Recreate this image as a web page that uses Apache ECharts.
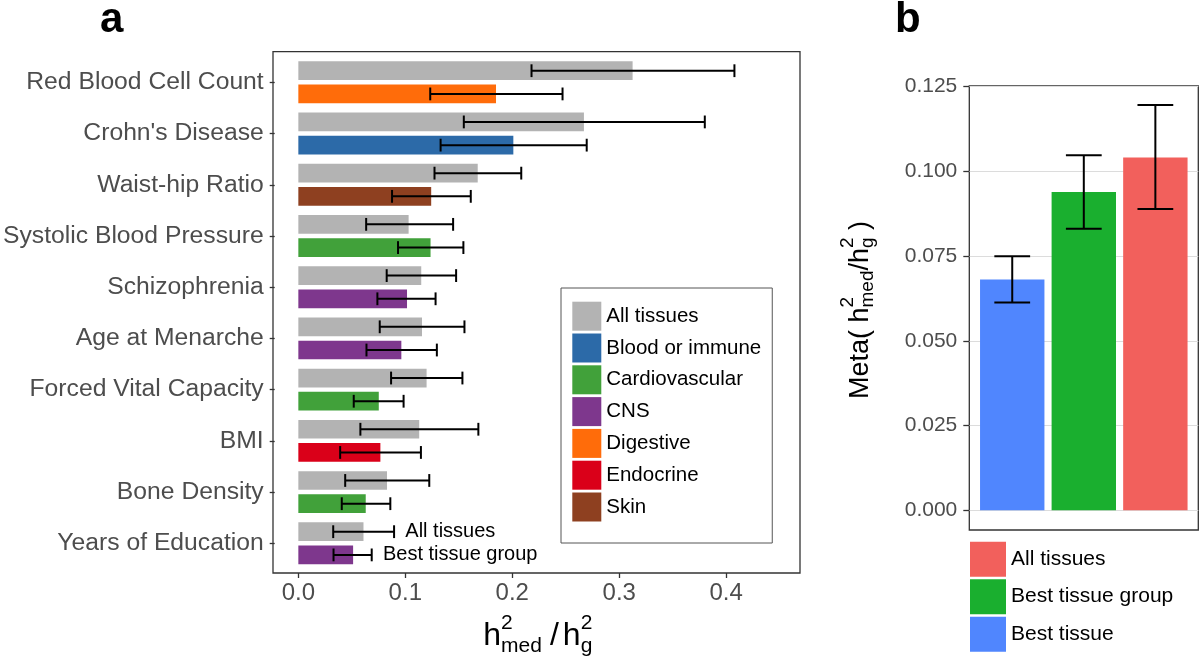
<!DOCTYPE html>
<html><head><meta charset="utf-8">
<script src="https://cdn.jsdelivr.net/npm/echarts@6/dist/echarts.min.js"></script>
<style>html,body{margin:0;padding:0;background:#fff}#c{width:1200px;height:661px}</style>
</head><body><div id="c"></div>
<script>
// ---------- Panel a data ----------
const traits = ['Red Blood Cell Count', "Crohn's Disease", 'Waist-hip Ratio', 'Systolic Blood Pressure', 'Schizophrenia', 'Age at Menarche', 'Forced Vital Capacity', 'BMI', 'Bone Density', 'Years of Education'];
const allTissuesVal = [0.3125, 0.267, 0.1677, 0.1031, 0.1149, 0.1156, 0.1199, 0.113, 0.0829, 0.0609];
const allTissuesLo  = [0.218, 0.1547, 0.1273, 0.0634, 0.0826, 0.0761, 0.0867, 0.058, 0.0438, 0.0326];
const allTissuesHi  = [0.4077, 0.380, 0.2084, 0.1447, 0.1475, 0.1553, 0.1534, 0.1683, 0.1224, 0.0895];
const bestGroup     = ['Digestive', 'Blood or immune', 'Skin', 'Cardiovascular', 'CNS', 'CNS', 'Cardiovascular', 'Endocrine', 'Cardiovascular', 'CNS'];
const bestGroupVal  = [0.1848, 0.201, 0.1242, 0.1236, 0.1016, 0.0963, 0.0752, 0.0767, 0.063, 0.0512];
const bestGroupLo   = [0.1233, 0.133, 0.0876, 0.0932, 0.0739, 0.0637, 0.0518, 0.0391, 0.0406, 0.0329];
const bestGroupHi   = [0.247, 0.2696, 0.1612, 0.1543, 0.1283, 0.1295, 0.0984, 0.1146, 0.086, 0.0686];
const tissueGroups  = ['Blood or immune', 'Cardiovascular', 'CNS', 'Digestive', 'Endocrine', 'Skin'];
const tissueColors  = ['#2C6AA8', '#41A13A', '#7E378D', '#FF6C0A', '#DA0019', '#8E4020'];
const xTicksA = [0, 0.1, 0.2, 0.3, 0.4];
const allColor = '#B3B3B3';
const annotText = ['All tissues', 'Best tissue group'];

// ---------- Panel b data ----------
const metaCats   = ['Best tissue', 'Best tissue group', 'All tissues'];
const metaVal    = [0.0681, 0.0939, 0.1041];
const metaLo     = [0.0613, 0.0831, 0.0889];
const metaHi     = [0.075, 0.1048, 0.1196];
const metaColors = ['#5086FE', '#1AAF2F', '#F2605C'];
const metaLegendOrder = ['All tissues', 'Best tissue group', 'Best tissue'];

const FONT = '"Liberation Sans", Arial, sans-serif';
const colorOf = g => tissueColors[tissueGroups.indexOf(g)];

const ctx = document.createElement('canvas').getContext('2d');
function tw(t, size) { ctx.font = size + 'px ' + FONT; return ctx.measureText(t).width; }
function mathGroup(parts, x, y, rotation) {
  const children = []; let cx = 0;
  parts.forEach(p => {
    const items = p.stack || [p];
    let w = 0;
    items.forEach(it => {
      children.push({type: 'text', x: cx, y: (it.dy || 0) - 0.31 * it.size,
        style: {text: it.t, fontSize: it.size, fontFamily: FONT, fill: '#000', align: 'left', verticalAlign: 'middle'}});
      w = Math.max(w, tw(it.t, it.size));
    });
    cx += w + (p.gap || 0);
  });
  return {type: 'group', x: x, y: y, rotation: rotation, children: children};
}

function errA(frac) {
  return function (params, api) {
    const idx = api.value(2);
    const band = api.size([0, 1])[1];
    const p1 = api.coord([api.value(0), idx]);
    const p2 = api.coord([api.value(1), idx]);
    const y = p1[1] + frac * band;
    const h = band * 0.125;
    const st = {stroke: '#000', lineWidth: 2};
    return {type: 'group', children: [
      {type: 'line', shape: {x1: p1[0], y1: y, x2: p2[0], y2: y}, style: st},
      {type: 'line', shape: {x1: p1[0], y1: y - h, x2: p1[0], y2: y + h}, style: st},
      {type: 'line', shape: {x1: p2[0], y1: y - h, x2: p2[0], y2: y + h}, style: st}
    ]};
  };
}
const OFF = 0.2266;

function errB(params, api) {
  const x = api.value(0);
  const p1 = api.coord([x, api.value(1)]);
  const p2 = api.coord([x, api.value(2)]);
  const hw = api.size([0.25, 0])[0];
  const st = {stroke: '#000', lineWidth: 2};
  return {type: 'group', children: [
    {type: 'line', shape: {x1: p1[0], y1: p1[1], x2: p2[0], y2: p2[1]}, style: st},
    {type: 'line', shape: {x1: p1[0] - hw, y1: p1[1], x2: p1[0] + hw, y2: p1[1]}, style: st},
    {type: 'line', shape: {x1: p2[0] - hw, y1: p2[1], x2: p2[0] + hw, y2: p2[1]}, style: st}
  ]};
}

const last = traits.length - 1;
const annotData = [[allTissuesHi[last] + 0.0105, last, 0], [bestGroupHi[last] + 0.0105, last, 1]];

const series = [
  {type: 'bar', name: 'All tissues', xAxisIndex: 1, yAxisIndex: 1, data: allTissuesVal,
   barWidth: 18.7, barGap: '24%', itemStyle: {color: allColor}},
  {type: 'bar', name: 'Best tissue group', xAxisIndex: 1, yAxisIndex: 1,
   data: bestGroupVal.map((v, i) => ({value: v, itemStyle: {color: colorOf(bestGroup[i])}})),
   barWidth: 18.7, barGap: '24%'},
  {type: 'custom', xAxisIndex: 1, yAxisIndex: 1, renderItem: errA(-OFF), encode: {x: [0, 1], y: 2},
   data: allTissuesLo.map((lo, i) => [lo, allTissuesHi[i], i]), z: 5},
  {type: 'custom', xAxisIndex: 1, yAxisIndex: 1, renderItem: errA(OFF), encode: {x: [0, 1], y: 2},
   data: bestGroupLo.map((lo, i) => [lo, bestGroupHi[i], i]), z: 5},
  {type: 'custom', xAxisIndex: 1, yAxisIndex: 1, encode: {x: 0, y: 1}, data: annotData, z: 5,
   renderItem: function (params, api) {
     const k = api.value(2);
     const band = api.size([0, 1])[1];
     const p = api.coord([api.value(0), api.value(1)]);
     return {type: 'text', x: p[0], y: p[1] + (k === 0 ? -OFF : OFF) * band,
       style: {text: annotText[k], fontSize: 20, fontFamily: FONT, fill: '#000', align: 'left', verticalAlign: 'middle'}};
   }},
];
tissueGroups.forEach((g, i) => series.push({type: 'line', name: g, xAxisIndex: 1, yAxisIndex: 1, data: [],
  itemStyle: {color: tissueColors[i]}, lineStyle: {color: tissueColors[i]}, color: tissueColors[i]}));
series.push({type: 'bar', name: 'meta', xAxisIndex: 3, yAxisIndex: 3, barWidth: 64.4,
  data: metaVal.map((v, i) => ({value: [i + 1, v], itemStyle: {color: metaColors[i]}}))});
series.push({type: 'custom', xAxisIndex: 3, yAxisIndex: 3, renderItem: errB, encode: {x: 0, y: [1, 2]},
  data: metaLo.map((lo, i) => [i + 1, lo, metaHi[i]]), z: 5});
metaLegendOrder.forEach(n => {
  const c = metaColors[metaCats.indexOf(n)];
  series.push({type: 'line', name: 'b:' + n, xAxisIndex: 3, yAxisIndex: 3, data: [],
    itemStyle: {color: c}, lineStyle: {color: c}, color: c});
});

const option = {
  animation: false,
  backgroundColor: '#fff',
  textStyle: {fontFamily: FONT},
  grid: [
    {left: 273, top: 51.7, width: 527, height: 521.3, show: true, borderColor: '#333', borderWidth: 1.3, backgroundColor: 'rgba(0,0,0,0)'},
    {left: 273, top: 56.7, width: 527, height: 512.2},
    {left: 969.3, top: 85.8, width: 229, height: 444.2, show: true, borderColor: '#333', borderWidth: 1.3, backgroundColor: 'rgba(0,0,0,0)'},
    {left: 969.3, top: 86.7, width: 229, height: 423.6}
  ],
  xAxis: [
    {gridIndex: 0, type: 'value', show: false},
    {gridIndex: 1, type: 'value', min: -0.0221, max: 0.469, offset: 4.1,
     axisLine: {show: false, onZero: false},
     axisTick: {show: true, length: 5, customValues: xTicksA, lineStyle: {color: '#333', width: 1.3}},
     axisLabel: {fontSize: 24, color: '#4D4D4D', margin: 8, fontFamily: FONT, customValues: xTicksA, formatter: v => v.toFixed(1)},
     splitLine: {show: false}},
    {gridIndex: 2, type: 'value', show: false},
    {gridIndex: 3, type: 'value', min: 0.4, max: 3.6, show: false, splitLine: {show: false}}
  ],
  yAxis: [
    {gridIndex: 0, type: 'value', show: false},
    {gridIndex: 1, type: 'category', data: traits, inverse: true,
     axisLine: {show: false, onZero: false}, axisTick: {show: true, alignWithLabel: true, length: 5, lineStyle: {color: '#333', width: 1.3}},
     axisLabel: {fontSize: 24.7, color: '#4D4D4D', margin: 11, interval: 0, fontFamily: FONT},
     splitLine: {show: false}},
    {gridIndex: 2, type: 'value', show: false},
    {gridIndex: 3, type: 'value', min: 0, max: 0.125, interval: 0.025,
     axisLine: {show: false, onZero: false}, axisTick: {show: true, length: 6, lineStyle: {color: '#333', width: 1.3}},
     axisLabel: {fontSize: 21, color: '#4D4D4D', margin: 12, fontFamily: FONT, formatter: v => v.toFixed(3)},
     splitLine: {show: true, lineStyle: {color: '#DCDCDC', width: 1.2}}}
  ],
  legend: [
    {data: ['All tissues'].concat(tissueGroups), orient: 'vertical', left: 561, top: 288,
     itemWidth: 29, itemHeight: 29, itemGap: 2.8, padding: [13.7, 11, 21.5, 11.3],
     borderColor: '#555', borderWidth: 1, backgroundColor: '#fff', icon: 'rect', selectedMode: false,
     textStyle: {fontSize: 20.5, color: '#000', fontFamily: FONT}},
    {data: metaLegendOrder.map(n => 'b:' + n), orient: 'vertical', left: 970, top: 541.7,
     itemWidth: 36, itemHeight: 35, itemGap: 2.5, padding: 0, icon: 'rect', selectedMode: false,
     formatter: n => n.slice(2), textStyle: {fontSize: 21, color: '#000', fontFamily: FONT}}
  ],
  graphic: [
    {type: 'text', x: 100, y: 33 - 0.31 * 42, style: {text: 'a', fontSize: 42, fontWeight: 'bold', fontFamily: FONT, fill: '#000', verticalAlign: 'middle'}},
    {type: 'text', x: 895, y: 33 - 0.31 * 42, style: {text: 'b', fontSize: 42, fontWeight: 'bold', fontFamily: FONT, fill: '#000', verticalAlign: 'middle'}},
    mathGroup([
      {t: 'h', size: 32},
      {stack: [{t: '2', size: 21, dy: -16}, {t: 'med', size: 21, dy: 7}], gap: 8},
      {t: '/', size: 32, gap: 4},
      {t: 'h', size: 32},
      {stack: [{t: '2', size: 21, dy: -16}, {t: 'g', size: 21, dy: 7}]}
    ], 483.3, 646, 0),
    mathGroup([
      {t: 'Meta( h', size: 27},
      {stack: [{t: '2', size: 19, dy: -15}, {t: 'med', size: 19, dy: 5}]},
      {t: '/h', size: 27},
      {stack: [{t: '2', size: 19, dy: -15}, {t: 'g', size: 19, dy: 5}]},
      {t: ' )', size: 27}
    ], 869, 399, Math.PI / 2)
  ],
  series: series
};
const chart = echarts.init(document.getElementById('c'), null, {renderer: 'canvas'});
chart.setOption(option);
</script>
</body></html>
